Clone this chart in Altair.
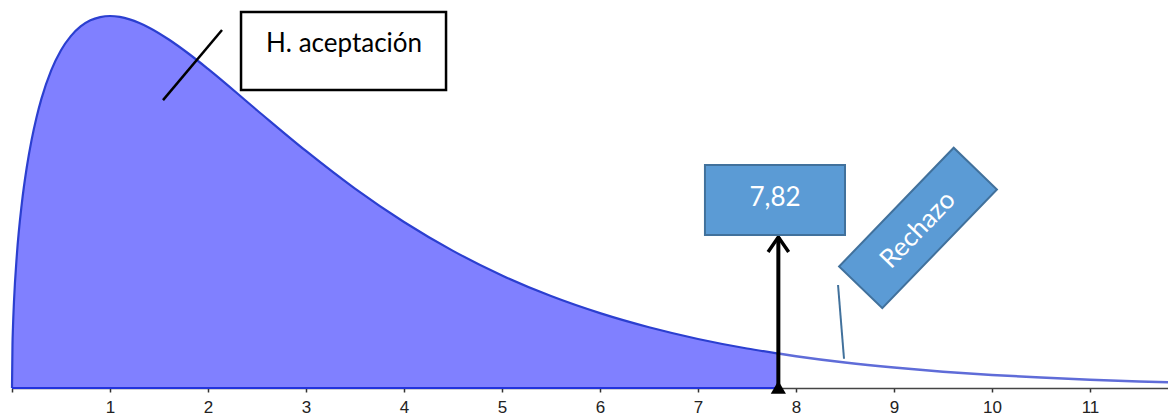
import altair as alt
import pandas as pd

# Chi-square (3 d.f.) density curve
curve_x = [0, 0.005, 0.01, 0.02, 0.05, 0.1, 0.15, 0.2, 0.25, 0.3, 0.4, 0.5, 0.6, 0.7, 0.8, 0.9,
           1.0, 1.1, 1.2, 1.3, 1.4, 1.6, 1.8, 2.0, 2.5, 3.0, 3.5, 4.0, 4.5, 5.0, 5.5, 6.0,
           6.5, 7.0, 7.5, 7.82, 8.0, 8.5, 9.0, 9.5, 10.0, 10.5, 11.0, 11.5, 12.0]
curve_y = [0, 0.0281, 0.0397, 0.0559, 0.0870, 0.1200, 0.1433, 0.1614, 0.1760, 0.1881, 0.2066,
           0.2197, 0.2289, 0.2352, 0.2392, 0.2413, 0.2420, 0.2414, 0.2398, 0.2374, 0.2344,
           0.2267, 0.2176, 0.2076, 0.1807, 0.1542, 0.1297, 0.1080, 0.0892, 0.0732, 0.0598,
           0.0487, 0.0395, 0.0319, 0.0257, 0.0224, 0.0207, 0.0166, 0.0133, 0.0106, 0.0085,
           0.0068, 0.0054, 0.0043, 0.0034]
critical = 7.82
critical_label = "7,82"
accept_label = "H. aceptación"
reject_label = "Rechazo"
tick_values = list(range(0, 12))

X_MAX = 11.796
Y_MAX = 0.2472

df = pd.DataFrame({"x": curve_x, "y": curve_y})

xs = alt.Scale(domain=[0, X_MAX], nice=False, zero=False)
ys = alt.Scale(domain=[0, Y_MAX], nice=False, zero=True)

xax = alt.Axis(values=tick_values, format="d",
               labelExpr="datum.value == 0 ? '' : datum.label",
               title=None, grid=False)

X = alt.X("x:Q", scale=xs, axis=xax)
Y = alt.Y("y:Q", scale=ys, axis=None)
XP = alt.X("x:Q", scale=xs)
YP = alt.Y("y:Q", scale=ys)

base = alt.Chart(df)

area = base.transform_filter(alt.datum.x <= critical).mark_area(
    color="#8080FF", opacity=1, interpolate="monotone").encode(x=X, y=Y)

left_line = base.transform_filter(alt.datum.x <= critical).mark_line(
    color="#2B3FD0", strokeWidth=2.2, interpolate="monotone").encode(x=XP, y=YP)

tail_line = base.transform_filter(alt.datum.x >= critical).mark_line(
    color="#5F6CD8", strokeWidth=2.5, interpolate="monotone", clip=True).encode(x=XP, y=YP)

baseline = alt.Chart(pd.DataFrame({"x": [0], "x2": [critical], "y": [0]})).mark_rule(
    color="#2233DD", strokeWidth=2).encode(x=XP, x2="x2:Q", y=YP)

# arrow from the critical value up to the label box
shaft = alt.Chart(pd.DataFrame({"x": [critical], "y": [0], "y2": [0.0982]})).mark_rule(
    color="black", strokeWidth=4).encode(x=XP, y=YP, y2="y2:Q")

chev = alt.Chart(pd.DataFrame({"x": [critical - 0.105, critical, critical + 0.105],
                               "y": [0.0885, 0.0982, 0.0885]})).mark_line(
    color="black", strokeWidth=3.5, strokeJoin="miter").encode(x=XP, y=YP)

tri = alt.Chart(pd.DataFrame({"x": [critical], "y": [0.0005]})).mark_point(
    shape="triangle-up", filled=True, color="black", size=230, opacity=1).encode(x=XP, y=YP)

# "H. aceptación" box and pointer
hbox = alt.Chart(pd.DataFrame({"x": [2.337], "x2": [4.429], "y": [0.1938], "y2": [0.2446]})).mark_rect(
    fill="white", stroke="black", strokeWidth=2.5).encode(x=XP, x2="x2:Q", y=YP, y2="y2:Q")

htext = alt.Chart(pd.DataFrame({"x": [3.388], "y": [0.2238], "t": [accept_label]})).mark_text(
    font="Lato", fontSize=26, color="black", baseline="middle", align="center").encode(
    x=XP, y=YP, text="t:N")

hline = alt.Chart(pd.DataFrame({"x": [1.541, 2.143], "y": [0.1873, 0.2329]})).mark_line(
    color="black", strokeWidth=2.5).encode(x=XP, y=YP)

# "7,82" box
cbox = alt.Chart(pd.DataFrame({"x": [7.071], "x2": [8.500], "y": [0.0995], "y2": [0.1451]})).mark_rect(
    fill="#5B9BD5", stroke="#41719C", strokeWidth=2).encode(x=XP, x2="x2:Q", y=YP, y2="y2:Q")

ctext = alt.Chart(pd.DataFrame({"x": [7.786], "y": [0.1236], "t": [critical_label]})).mark_text(
    font="Lato", fontSize=26, color="white", baseline="middle", align="center").encode(
    x=XP, y=YP, text="t:N")

# rotated "Rechazo" box and pointer
rbox = alt.Chart(pd.DataFrame({"x": [9.245], "y": [0.1041]})).mark_point(
    shape="M-1,-0.364L1,-0.364L1,0.364L-1,0.364Z", filled=True, fill="#5B9BD5",
    stroke="#41719C", strokeWidth=2, size=27225, angle=314, opacity=1, fillOpacity=1).encode(
    x=XP, y=YP)

rtext = alt.Chart(pd.DataFrame({"x": [9.245], "y": [0.1028], "t": [reject_label]})).mark_text(
    font="Lato", fontSize=26, color="white", baseline="middle", align="center", angle=314).encode(
    x=XP, y=YP, text="t:N")

rline = alt.Chart(pd.DataFrame({"x": [8.429, 8.490], "y": [0.0670, 0.0190]})).mark_line(
    color="#41719C", strokeWidth=2).encode(x=XP, y=YP)

chart = alt.layer(area, left_line, tail_line, baseline, shaft, chev, tri,
                  hbox, htext, hline, cbox, ctext, rbox, rtext, rline).properties(
    width=1156, height=380,
    autosize=alt.AutoSizeParams(type="none"),
    padding={"left": 4, "top": 0, "right": 0, "bottom": 29},
).configure_view(stroke=None).configure_axisX(
    domainColor="#444", domainWidth=1.5, tickColor="#333", tickWidth=1.5, tickSize=4,
    labelFontSize=17, labelColor="#222", labelFont="Liberation Sans", labelPadding=7,
    grid=False)

chart.save("out.html", embed_options={"renderer": "svg", "actions": False})
